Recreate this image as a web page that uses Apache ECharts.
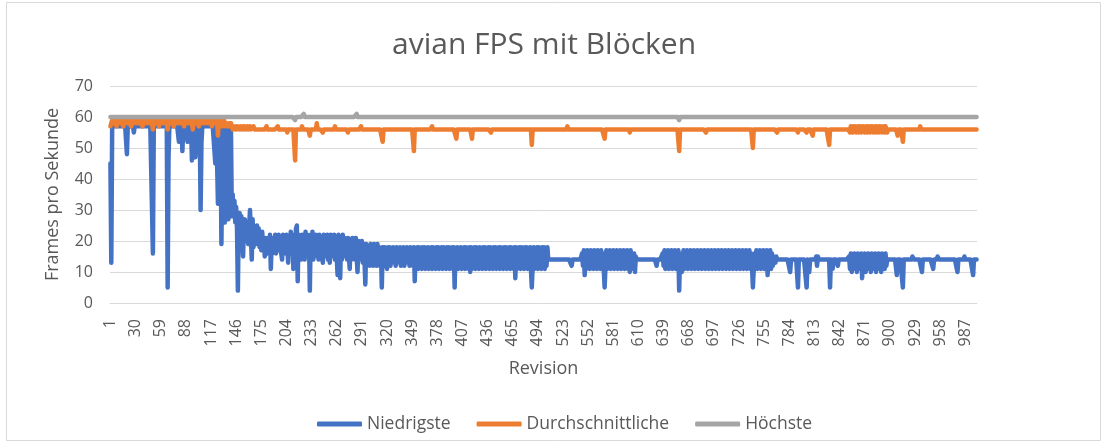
<!DOCTYPE html>
<html lang="de">
<head>
    <meta charset="UTF-8">
    <title>avian FPS mit Blöcken</title>
    <script type="text/javascript" src="https://cdn.jsdelivr.net/npm/echarts@6/dist/echarts.min.js"></script>
    <style>
        html, body { margin: 0; padding: 0; background: #fff; }
        #chart { width: 1115px; height: 446px; }
    </style>
</head>
<body>
<div id="chart"></div>
<script type="text/javascript">
    // werte pro revision, als laeufe: zahl = ein punkt, [wert, anzahl] = wiederholung
    var niedrigste = [
        // 1-120
        45, 13, [57, 17], 48, [57, 7], 55, [57, 21], 16, [57, 16], 5, 47, [57, 11],
        52, 57, 55, 57, 49, 57, 53, [57, 3], 52, [57, 2], 55, 57, 46, 57, 50, 57, 47, 57, 52, 57, 56, 57, 30, 52, [57, 14],
        // 121-141
        57, 45, 57, 46, 32, 57, 33, 57, 19, 45, 57, 35, 26, 57, 35, 55, 27, 57, 34, 56, 28,
        // 142-180
        35, 30, 33, 26, 31, 24, 4, 27, 29, 22, 28, 21, 15, 26, 27, 20, 26, 21, 19, 25,
        30, 22, 14, 27, 18, 23, 24, 19, 25, 20, 24, 18, 22, 17, 23, 19, 21, 15, 21,
        // 181-215
        20, 16, 21, 17, 22, 11, 20, 16, 21, 18, 22, 16, 21, 17, 22, 18, 21, 16, 14, 22,
        17, 21, 16, 22, 18, 13, 21, 16, 23, 17, 22, 11, 20, 15, 24,
        // 216-296
        25, 7, 22, 15, 21, 14, 22, 16, 21, 14, 23, 15, 22, 16, 21, 4, 22, 15, 23, 14,
        21, 16, 22, 15, 21, 14, 22, 16, 20, 15, 13, 22, 15, 21, 16, 22, 14, 21, 13, 22,
        15, 21, 16, 22, 14, 21, 15, 9, 22, 15, 8, 21, 14, 22, 16, 21, 15, 20, 14, 21,
        15, 11, 20, 14, 21, 16, 20, 14, 21, 15, 10, 20, 14, 19, 15, 20, 13, 19, 14, 6,
        19,
        // 297-506
        19, 13, 18, 12, 19, 14, 18, 12, 19, 13, 18, 12, 19, 13, 18, 12, 17, 5, 18, 13,
        18, 12, 17, 11, 18, 13, 18, 12, 17, 13, 18, 13, 17, 12, 18, 14, 17, 13, 18, 12,
        17, 13, 18, 12, 17, 14, 18, 13, 17, 12, 18, 13, 17, 12, 18, 7, 17, 12, 18, 11,
        18, 12, 17, 11, 18, 12, 18, 11, 17, 12, 18, 11, 17, 12, 18, 11, 18, 12, 17, 11,
        18, 12, 18, 11, 17, 12, 18, 11, 18, 12, 17, 11, 18, 12, 18, 11, 17, 12, 18, 11,
        18, 5, 17, 12, 18, 11, 17, 12, 18, 11, 17, 12, 18, 11, 18, 12, 17, 11, 18, 10,
        18, 11, 17, 12, 18, 11, 18, 12, 17, 11, 18, 12, 17, 11, 18, 12, 18, 11, 17, 12,
        18, 11, 18, 12, 17, 11, 18, 12, 18, 11, 17, 12, 18, 11, 18, 12, 17, 11, 18, 12,
        18, 11, 17, 12, 18, 11, 18, 12, 17, 11, 18, 8, 18, 11, 17, 12, 18, 11, 18, 12,
        17, 11, 18, 12, 18, 11, 17, 12, 18, 11, 5, 12, 18, 11, 17, 12, 18, 11, 18, 12,
        17, 11, 18, 12, 18, 11, 17, 12, 18, 14,
        // 507-544
        [14, 26], 12, [14, 11],
        // 545-607
        16, 12, 17, 9, 16, 11, 17, 12, 16, 11, 17, 12, 16, 11, 17, 12, 16, 11, 17, 12,
        16, 11, 17, 12, 16, 11, 5, 12, 17, 11, 16, 12, 17, 11, 16, 12, 17, 11, 16, 12,
        17, 11, 16, 12, 17, 11, 16, 12, 17, 11, 16, 12, 17, 11, 16, 10, 17, 12, 16, 11,
        16, 10, 15,
        // 608-637
        [14, 23], 12, [14, 6],
        // 638-766
        16, 12, 17, 11, 16, 12, 17, 11, 16, 12, 17, 11, 16, 12, 17, 11, 16, 12, 17, 4,
        16, 11, 10, 12, 17, 11, 16, 12, 17, 11, 16, 12, 17, 11, 16, 13, 17, 11, 16, 12,
        17, 11, 16, 12, 17, 11, 16, 12, 17, 11, 16, 12, 17, 11, 16, 12, 17, 11, 16, 12,
        17, 11, 16, 13, 17, 11, 16, 12, 17, 11, 16, 12, 17, 11, 16, 12, 17, 11, 16, 12,
        17, 11, 16, 12, 17, 11, 16, 12, 17, 11, 16, 12, 17, 11, 16, 12, 17, 11, 16, 12,
        17, 11, 16, 12, 5, 11, 16, 12, 17, 11, 16, 12, 17, 11, 16, 12, 17, 11, 16, 12,
        17, 9, 16, 12, 17, 11, 16, 12, 15,
        // 767-852
        15, 13, 15, [14, 15], 10, [14, 8], 5, [14, 9], 5, 14, 14, 10, [14, 7], 15, 12, 15,
        [14, 13], 5, 14, 14, 11, [14, 5], 12, [14, 12],
        // 853-897
        15, 11, 16, 10, 15, 12, 16, 11, 15, 10, 16, 11, 15, 12, 16, 8, 15, 11, 16, 10,
        15, 12, 16, 11, 15, 10, 16, 12, 15, 11, 16, 10, 15, 12, 16, 11, 15, 10, 16, 12,
        15, 11, 16, 12, 14,
        // 898-1000
        [14, 10], 9, [14, 6], 5, [14, 10], 15, 15, [14, 9], 10, [14, 12], 11, [14, 4], 15, 15,
        [14, 21], 10, [14, 7], 15, [14, 9], 9, [14, 4]
    ];

    var durchschnittliche = [
        // 1-140
        57, 58, 59, 58, 58, 59, 58, 57, 58, 59, 58, 58, 59, 58, 58, 57, 59, 58, 58, 59,
        58, 59, 58, 58, 57, 58, 59, 58, 58, 59, 58, 58, 59, 58, 59, 58, 58, 57, 58, 59,
        58, 59, 58, 58, 59, 58, 58, 59, 58, 56, 58, 59, 58, 58, 59, 58, 57, 58, 59, 58,
        58, 59, 58, 58, 59, 58, 56, 58, 59, 58, 58, 59, 58, 57, 58, 59, 58, 58, 59, 58,
        59, 58, 58, 59, 58, 57, 58, 59, 58, 58, 59, 58, 58, 59, 58, 56, 58, 59, 58, 58,
        59, 58, 57, 58, 59, 58, 58, 59, 58, 58, 59, 58, 58, 59, 58, 58, 59, 57, 58, 58,
        59, 58, 58, 59, 54, 58, 59, 58, 58, 57, 58, 59, 58, 57, 58, 58, 57, 58, 57, 58,
        // 141-170
        57, 56, 57, 57, 56, 57, 56, 57, 57, 56, 57, 56, 56, 57, 56, 57, 56, 56, 57, 56,
        56, 57, 56, 56, 56, 57, 56, 56, 56, 56,
        // 171-853
        [56, 10], 57, [56, 12], 57, [56, 10], 55, [56, 8], 46, [56, 7], 57, [56, 8], 54,
        [56, 7], 58, [56, 6], 55, [56, 13], 57, [56, 14], 55, [56, 14], 57, [56, 24], 52,
        [56, 35], 49, [56, 20], 57, [56, 27], 53, [56, 17], 53, [56, 21], 55, [56, 46], 51,
        [56, 40], 57, [56, 42], 53, [56, 28], 55, [56, 56], 49, [56, 30], 55, [56, 53], 50,
        [56, 27], 55, [56, 23], 55, [56, 9], 55, [56, 6], 54, [56, 18], 51, [56, 23],
        // 854-897
        55, 57, 56, 55, 57, 56, 57, 55, 56, 57, 55, 57, 56, 55, 57, 56, 57, 55, 56, 57,
        55, 57, 56, 55, 57, 56, 57, 55, 56, 57, 55, 57, 56, 55, 57, 56, 57, 55, 56, 57,
        55, 57, 56, 55,
        // 898-1000
        [56, 10], 55, 54, [56, 5], 52, [56, 19], 57, [56, 65]
    ];

    var hoechste = [[60, 213], 59, [60, 9], 61, [60, 60], 61, [60, 371], 59, [60, 343]];

    var yTicks = [0, 70, 10];

    function expand(runs) {
        var out = [];
        runs.forEach(function (r) {
            if (Array.isArray(r)) {
                for (var k = 0; k < r[1]; k++) out.push(r[0]);
            } else {
                out.push(r);
            }
        });
        return out;
    }

    var low = expand(niedrigste);
    var avg = expand(durchschnittliche);
    var high = expand(hoechste);
    var revisionen = low.map(function (v, k) { return String(k + 1); });

    var textColor = '#595959';
    var font = 'Open Sans';

    function lineSeries(name, data, color) {
        return {
            name: name,
            type: 'line',
            data: data,
            symbol: 'none',
            lineStyle: { color: color, width: 4.5, cap: 'round', join: 'round' },
            itemStyle: { color: color }
        };
    }

    var mychart = echarts.init(document.getElementById('chart'));
    var option = {
        animation: false,
        textStyle: { fontFamily: font },
        graphic: [{
            type: 'rect',
            shape: { x: 6.5, y: 2.5, width: 1094, height: 438 },
            style: { fill: 'none', stroke: '#d9d9d9', lineWidth: 1 }
        }],
        title: {
            text: 'avian FPS mit Blöcken',
            left: 387,
            top: 25,
            textStyle: { color: textColor, fontSize: 30, fontWeight: 'normal', fontFamily: font }
        },
        legend: {
            top: 410,
            left: 312,
            icon: 'roundRect',
            itemWidth: 45,
            itemHeight: 5,
            itemGap: 26,
            textStyle: { color: textColor, fontSize: 17.5, fontFamily: font },
            data: ['Niedrigste', 'Durchschnittliche', 'Höchste']
        },
        grid: { left: 110, right: 138, top: 86, bottom: 143 },
        xAxis: {
            type: 'category',
            data: revisionen,
            boundaryGap: true,
            name: 'Revision',
            nameLocation: 'middle',
            nameGap: 57,
            nameTextStyle: { color: textColor, fontSize: 18, fontFamily: font },
            axisTick: { show: false },
            axisLine: { lineStyle: { color: '#d9d9d9', width: 1 } },
            axisLabel: { interval: 28, rotate: 90, color: textColor, fontSize: 16, margin: 16, fontFamily: font },
            splitLine: { show: false }
        },
        yAxis: {
            type: 'value',
            min: yTicks[0],
            max: yTicks[1],
            interval: yTicks[2],
            name: 'Frames pro Sekunde',
            nameLocation: 'middle',
            nameRotate: 90,
            nameGap: 48,
            nameTextStyle: { color: textColor, fontSize: 18, fontFamily: font },
            axisLine: { show: false },
            axisTick: { show: false },
            axisLabel: { color: textColor, fontSize: 16, margin: 17, fontFamily: font },
            splitLine: { lineStyle: { color: '#d9d9d9', width: 1 } }
        },
        series: [
            lineSeries('Niedrigste', low, '#4472C4'),
            lineSeries('Durchschnittliche', avg, '#ED7D31'),
            lineSeries('Höchste', high, '#A5A5A5')
        ]
    };
    mychart.setOption(option);
</script>
</body>
</html>
